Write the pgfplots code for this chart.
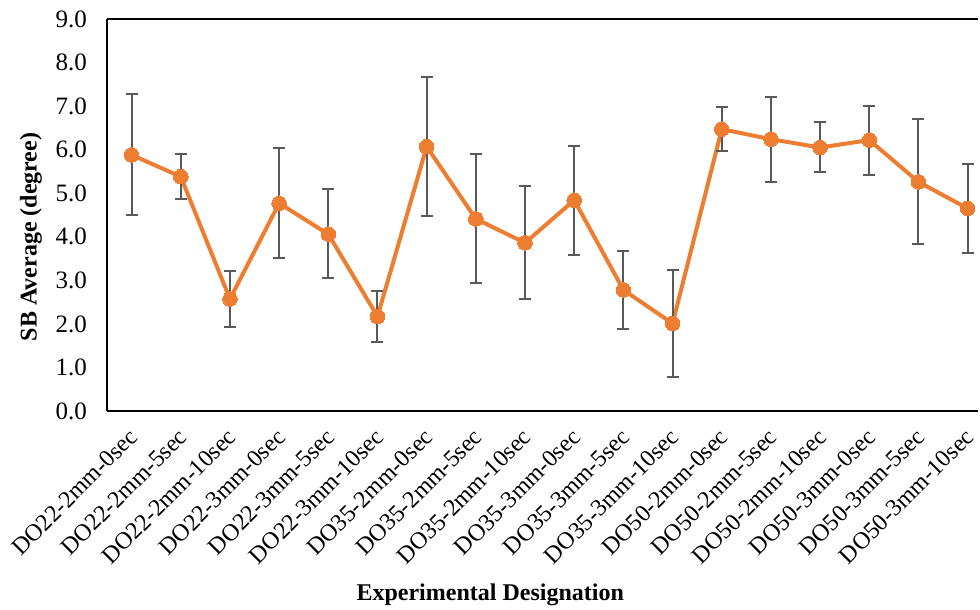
\documentclass[border=0pt]{standalone}
\usepackage{pgfplots}
\pgfplotsset{compat=1.18}
\usepackage{fontspec}
\setmainfont{Liberation Serif}
\definecolor{lineor}{HTML}{ED7D31}
\definecolor{errg}{HTML}{595959}
\begin{document}
\begin{tikzpicture}
\begin{axis}[
  scale only axis,
  width=871pt, height=392pt,
  xmin=-0.5, xmax=17.21,
  ymin=0, ymax=9,
  ytick={0,1,...,9},
  xtick={0,...,17},
  xticklabels={DO22-2mm-0sec,DO22-2mm-5sec,DO22-2mm-10sec,DO22-3mm-0sec,DO22-3mm-5sec,DO22-3mm-10sec,DO35-2mm-0sec,DO35-2mm-5sec,DO35-2mm-10sec,DO35-3mm-0sec,DO35-3mm-5sec,DO35-3mm-10sec,DO50-2mm-0sec,DO50-2mm-5sec,DO50-2mm-10sec,DO50-3mm-0sec,DO50-3mm-5sec,DO50-3mm-10sec},
  major tick length=0pt,
  axis x line=box,
  axis y line=left,
  axis line style={line width=2pt, black, -},
  y axis line style={-},
  /pgf/number format/assume math mode=true,
  yticklabel={\pgfmathprintnumber[fixed,fixed zerofill,precision=1]{\tick}},
  yticklabel style={font=\fontsize{25}{28}\selectfont, anchor=east, inner sep=0pt, xshift=-20pt},
  xticklabel style={font=\fontsize{24}{28}\selectfont, inner sep=0pt, xshift=2pt, yshift=-22pt, rotate=45, anchor=east},
  xlabel={Experimental Designation},
  ylabel={SB Average (degree)},
  xlabel style={font=\bfseries\fontsize{24}{28}\selectfont, at={(axis description cs:0.44,0)}, anchor=center, yshift=-184pt},
  ylabel style={font=\bfseries\fontsize{24}{28}\selectfont, at={(axis description cs:-0.0873,0.444)}, anchor=center},
  clip=false,
]
\addplot[color=lineor, line width=4pt, mark=*, mark size=7.3pt,
  mark options={fill=lineor, draw=lineor, line width=0pt},
  error bars/.cd, y dir=both, y explicit,
  error bar style={line width=2pt, color=errg},
  error mark options={rotate=90, mark size=6pt, line width=2pt, color=errg}]
table[x=x, y=y, y error plus=ep, y error minus=em] {
x y ep em
0 5.88 1.39 1.39
1 5.38 0.51 0.52
2 2.57 0.65 0.65
3 4.77 1.26 1.26
4 4.06 1.04 1.01
5 2.17 0.58 0.58
6 6.07 1.60 1.59
7 4.41 1.48 1.48
8 3.86 1.31 1.28
9 4.84 1.24 1.26
10 2.78 0.89 0.90
11 2.01 1.22 1.23
12 6.47 0.52 0.49
13 6.24 0.98 0.98
14 6.05 0.58 0.57
15 6.22 0.79 0.80
16 5.26 1.44 1.43
17 4.65 1.02 1.02
};
\end{axis}
\pgfresetboundingbox
\path[use as bounding box] (-107pt,-199pt) rectangle (873pt,411pt);
\end{tikzpicture}
\end{document}
